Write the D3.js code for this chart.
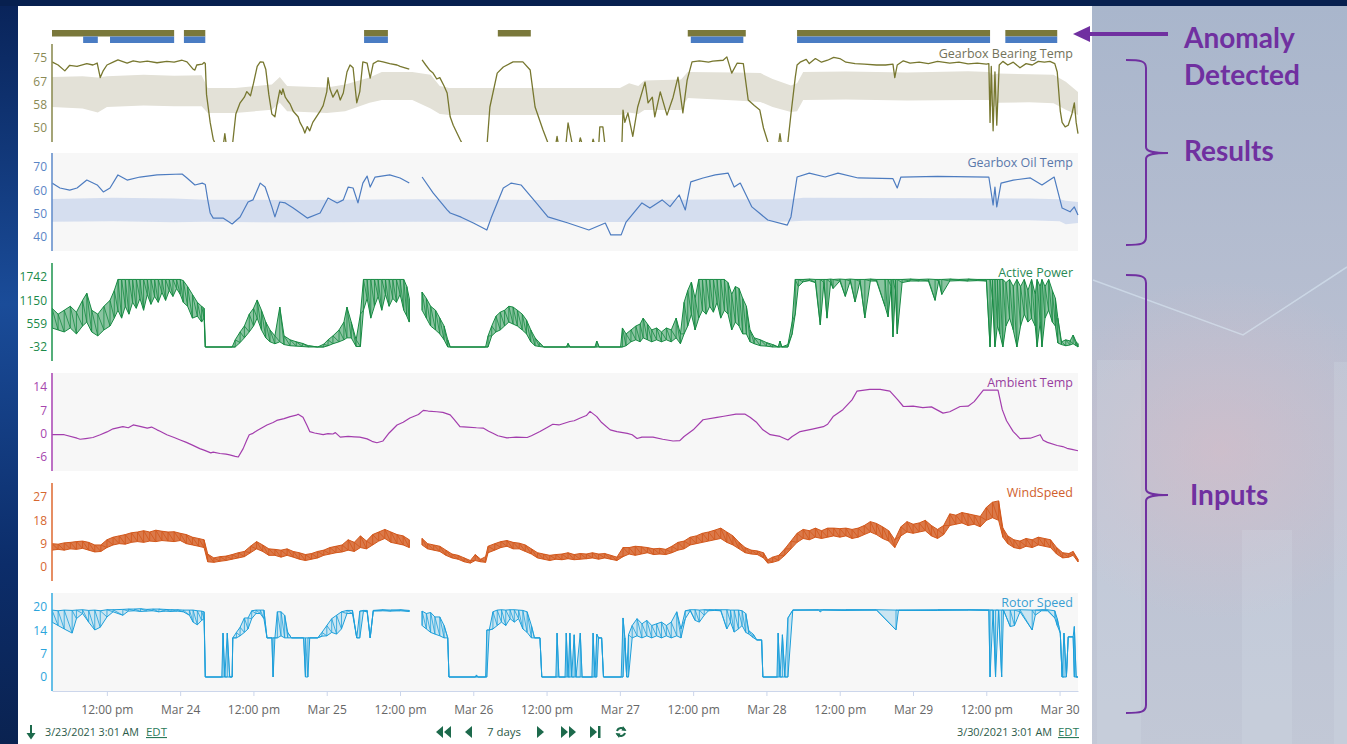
<!DOCTYPE html>
<html>
<head>
<meta charset="utf-8">
<script src="https://cdn.jsdelivr.net/npm/d3@7"></script>
<style>
  body { margin: 0; width: 1347px; height: 744px; overflow: hidden; background: #0b2a62; }
  svg { display: block; }
</style>
</head>
<body>
<script>
/*
DATA  (time = hours after 3/23/2021 3:01 AM)
*/
const startTime = Date.UTC(2021, 2, 23, 3, 1)
const endTime = Date.UTC(2021, 2, 30, 3, 1)

// anomaly flags, [from, to] in hours
const anomalyBearing = [[0, 20], [21.6, 25.1], [51.1, 55], [73, 78.4], [104.1, 113.6], [122, 153.6], [156.1, 164.6]]
const anomalyOil = [[5.1, 7.5], [9.5, 20], [21.6, 25.1], [51.1, 55], [104.6, 113.2], [122, 153.6], [156.1, 164.6]]

const bearingTicks = [50, 58.33, 66.67, 75]
const oilTicks = [40, 50, 60, 70]
const powerTicks = [-32, 559, 1150, 1742]
const ambientTicks = [-6.4, 0.3, 7, 13.7]
const windTicks = [0, 9, 18, 27]
const rotorTicks = [0, 6.8, 13.6, 20.4]

const bearingTemp = [[0,73.6],[1,72.5],[2.1,70.4],[2.9,72.4],[4.1,72],[5.7,73],[6.7,72.5],[7.4,73.2],[7.9,68],[8.4,70.5],[9,72.5],[10,73.5],[10.8,74.3],[12.3,73.2],[13.3,74],[14.4,73.5],[15.6,73.9],[17.2,73.3],[18.8,73.8],[20,73.5],[21.3,74.2],[22.1,73.6],[23.1,71],[23.4,70.7],[23.7,72.5],[24.6,72.8],[24.9,73.4],[25.1,73],[25.3,62],[25.9,52],[26.4,46],[27,43],[28,43],[28.3,48],[28.6,43],[29.5,43],[30.1,55],[30.8,59],[31.5,61],[31.9,63],[32.5,61.5],[33,66],[33.6,72],[34.1,73.6],[34.6,73.5],[35,71],[35.5,62],[36,55],[36.5,54],[36.8,58],[37.3,63.5],[37.6,62],[37.8,64],[38.2,61],[38.5,60],[39,58.5],[39.5,56],[40.3,54],[40.6,52],[41.1,50],[41.4,48.2],[41.8,50.5],[42.2,49],[42.7,52],[43.9,56],[44.4,58],[45,63],[45.2,68],[45.5,64],[46,61],[46.7,63.6],[47.2,60],[47.7,62.5],[48.3,70],[48.8,72.5],[49.3,71.5],[49.9,59],[50.4,63],[50.9,73.6],[51.6,73.2],[52.1,67.8],[52.6,73],[53.4,74],[54.2,73.6],[55.3,73],[56.5,72.5],[57,72],[57.8,71.5],[58.5,71],null,
  [60.6,74.3],[61.2,72.5],[61.9,70.5],[62.4,69.6],[63,67.5],[63.5,68],[64.2,65],[64.7,62.5],[65.2,54],[65.7,51],[66.8,46],[67.5,43],[71.2,43],[71.7,57.5],[72.9,69.6],[73.9,71.8],[75.5,73.6],[77.1,73.6],[78.3,70.7],[79.1,57.5],[80.4,49.3],[81.5,43],[82.4,43],[82.7,47],[83,43],[84.1,43],[84.5,51.8],[85.3,43],[86.2,43],[86.5,46.5],[87,43],[88.3,43],[88.6,46],[89,43],[89.5,43],[89.7,50.4],[90.2,50.4],[90.6,43],[93.3,43],[93.5,56.4],[93.8,52],[94.3,55.4],[95.1,47],[95.9,57.5],[97.1,66.4],[97.6,59],[98.3,61],[98.7,54],[99.6,62.9],[100.7,54.6],[101.7,61],[102.5,68.2],[103.3,55.4],[104,67.1],[104.8,73.6],[106,74],[107.5,73.5],[108.2,73.9],[109.9,74.2],[110.5,75.4],[111.3,69.6],[112.2,73.2],[113.2,73],[114,60],[115,58],[115.9,56.4],[116.5,50],[117.5,43],[118.9,43],[119.2,48],[119.5,43],[120.5,45],[121,55],[121.7,68],[122,72.5],[122.5,73.5],[123.5,74.5],[124,73],[125,74.8],[126,73.5],[127,74.2],[128,75.2],[129,74.8],[130,73.5],[131.5,73],[133,72.8],[135,72.5],[136.5,72.5],[137.7,72.8],[138,68],[138.4,72.5],[139.4,74],[140.5,73.2],[142,73.5],[143.5,73],[145,73.8],[147,73.2],[148.5,73.5],[150,72.9],[151.5,73.2],[153,72.8],[153.4,73],[153.6,52],[153.8,72],[154.1,49],[154.4,70],[154.7,51],[155.1,72.5],[155.7,73.8],[156.5,72.5],[157.4,73.5],[158.5,71.5],[159.5,73],[160.5,72.5],[161.5,73.8],[162.5,73.5],[163.4,73.8],[164.2,73],[164.6,70],[165.1,56],[165.4,52],[165.9,50.4],[166.4,51],[167,55],[167.4,59],[167.7,52],[168,48]]

// expected range [hour, low, high]
const bearingBand = [[0,57.5,68.2],[5,57,68.5],[7.5,55.5,68],[9,57.5,68.5],[15,58,69],[20,57.8,68.7],[24.5,57.8,68.8],[25.5,55.4,64.3],[30,55.4,64.3],[36,56.5,65.5],[37.3,59,68.2],[38.5,56,65],[45,55.4,64.5],[48,56,65.5],[52,59,68],[54,60,70],[59,60,70],[62,57,69],[63.5,55,65],[65,54.6,64.3],[80,54.6,64.3],[93,54.6,64.3],[94.5,55.5,66],[96,55,65],[97,56.4,67],[103,56.4,67.3],[104.1,60.7,70],[112,59.8,69.8],[116,59.3,69.6],[118,57.5,67.5],[121,55.7,65.2],[122,56,66],[123,60,70],[130,60.2,70.2],[140,59.8,69.8],[150,60,70.3],[153.4,60,70],[154,57,69],[155,59,69.5],[160,59.2,69.2],[164,58.8,69],[166,56.5,66.5],[168,54.6,62.9]]

const oilTemp = [[0,63.1],[1.3,61],[2.9,60.1],[4.1,61],[5.7,64.4],[7.4,62.3],[8.4,59.3],[9.5,61],[10.8,66.6],[12.3,64.4],[14.4,65.7],[17.2,66.6],[21.3,67],[22.1,65.3],[23.4,62.3],[24.6,63.1],[25.1,62.5],[25.5,56],[25.9,50.3],[26.4,48.1],[28,48.1],[29.5,45.6],[30.8,48.6],[32.1,55],[32.9,55.9],[34.1,63.1],[34.9,61.4],[36,52.9],[36.5,48.6],[37.3,55],[38.2,54.6],[39.5,52.4],[41.8,48.1],[43.9,50.3],[45.2,56.7],[46.7,54.6],[47.7,55.9],[48.5,61.4],[49.3,61],[50.1,54.6],[50.9,63.1],[51.6,66.1],[52.1,61.4],[52.9,65.7],[55.3,66.6],[57,65.3],[58.5,63.1],null,
  [60.6,65.7],[62.4,58.9],[64.7,51.6],[65.2,50.3],[67,48.5],[69,46],[70.5,44],[71.2,43],[71.9,48.1],[73.9,61],[75.2,63.1],[76.8,62.3],[79.3,54.6],[81.2,48.6],[84.5,46],[87.9,43],[90.6,46],[91.5,40.9],[93.2,40.9],[94,46.4],[96.6,54.6],[97.9,52.4],[99.9,55.9],[101.2,53],[102.7,58],[103.7,51.6],[104.6,63.6],[106.6,65.3],[108.6,66.6],[110.7,67.4],[111.7,61.4],[112.7,63.1],[114.6,52.9],[117.2,47.3],[120.4,45.1],[121,48.6],[122,65.7],[124,67.4],[126.6,65.7],[128.7,67.4],[132,65.3],[137.7,65],[138.4,61],[139,65.7],[145,66],[153.4,65.7],[154.1,53.7],[154.4,61.4],[154.7,52.9],[155.4,63.1],[157.4,64.4],[160.2,65.3],[162.1,62.3],[164.1,65.7],[165.4,52.4],[166.7,50.8],[167.4,52.9],[168,49.4]]

const oilBand = [[0,46.5,56.3],[10,46.8,56.8],[20,46.3,56.5],[25,46.5,56],[40,46.2,55.9],[60,46.5,56.2],[80,46.4,55.9],[100,46.4,56],[121,46.6,56.2],[123,47,56.8],[140,47.3,56.7],[160,47.2,56.5],[165,46.8,56.2],[166,45.5,55.5],[168,46,55]]

// noisy inputs: [hour, low, high]
const activePower = [[0,450,950],[1,400,800],[2,350,900],[3,450,1000],[4,300,850],[5,500,1150],[5.7,600,1330],[6.5,350,900],[7.5,250,800],[8.5,400,1000],[9.5,500,1150],[10.2,700,1400],[10.8,900,1680],[11.4,700,1680],[12,1000,1680],[12.6,800,1680],[13.2,1100,1680],[13.8,950,1680],[14.4,1200,1680],[15,900,1680],[15.6,1300,1680],[16.2,1050,1680],[16.8,1250,1680],[17.4,1100,1680],[18,1350,1680],[18.6,1150,1680],[19.2,1400,1680],[19.8,1250,1680],[20.4,1450,1680],[21,1300,1680],[21.5,1100,1650],[22.2,1000,1500],[23,700,1300],[23.8,750,1100],[24.5,600,1000],[24.9,700,950],[25.1,-32,-32],[29.5,-32,-32],[30,-32,150],[30.8,80,350],[31.5,200,500],[32.3,350,800],[33,500,950],[33.6,700,1160],[34.3,400,900],[35,200,600],[35.7,100,400],[36.5,50,250],[37.3,100,980],[38,30,250],[39,0,150],[40,-10,100],[41,-20,60],[42,-32,0],[43.5,-32,-32],[44.5,-32,40],[45.2,0,150],[46,50,250],[47,100,400],[47.8,150,600],[48.3,200,980],[49,200,600],[49.8,-20,150],[50.5,-20,800],[51,900,1680],[51.6,1200,1680],[52.2,700,1680],[52.8,1000,1680],[53.4,1250,1680],[54,900,1680],[54.6,1300,1680],[55.2,1000,1680],[55.8,1200,1680],[56.4,1100,1680],[57,1300,1680],[57.6,900,1680],[58.1,750,1500],[58.5,600,1200],null,
  [60.6,900,1360],[61.3,700,1200],[62,500,1000],[62.8,400,900],[63.5,300,700],[64.2,150,500],[64.8,-32,150],[65.2,-32,-32],[71,-32,-32],[71.4,-32,250],[72,250,500],[72.7,350,750],[73.4,400,850],[74.1,500,900],[74.8,600,1000],[75.5,550,980],[76.2,500,900],[77,400,800],[77.7,300,650],[78.4,100,400],[79.1,0,200],[79.8,-20,80],[80.5,-32,-32],[84.2,-32,-32],[84.5,-32,60],[84.8,-32,-32],[88.9,-32,-32],[89.2,-32,120],[89.6,-32,-32],[93.1,-32,-32],[93.4,-32,450],[94,0,300],[94.8,100,400],[95.6,150,500],[96.3,100,550],[96.8,200,700],[97.5,150,550],[98.2,100,400],[99,150,450],[99.8,100,350],[100.6,150,450],[101.4,100,400],[102.2,200,700],[102.9,50,300],[103.5,300,1100],[104.1,500,1400],[104.7,800,1615],[105.3,400,1200],[105.9,700,1680],[106.5,900,1680],[107.1,800,1680],[107.7,1000,1680],[108.3,850,1680],[108.9,1100,1680],[109.5,700,1680],[110.1,900,1680],[110.7,800,1600],[111.3,400,1300],[111.9,600,1500],[112.5,500,1450],[113.1,300,1200],[113.7,300,1000],[114.3,100,400],[115,50,200],[116,0,150],[117,-10,80],[118,-32,30],[118.9,-32,-32],[119.2,-32,120],[119.5,-32,-32],[120.5,-32,30],[121.2,300,601],[121.7,800,1680],[122.2,1500,1680],[123,1620,1680],[124,1650,1690],[125,1600,1680],[125.8,526,1680],[126.4,1600,1680],[126.9,700,1680],[127.5,1600,1690],[127.9,1450,1680],[129,1640,1690],[129.9,1250,1680],[130.7,1640,1690],[131.5,1108,1680],[132.3,1630,1680],[133.1,703,1680],[134,1640,1690],[135,1640,1680],[136.4,1000,1680],[136.9,730,1680],[137.4,1500,1680],[137.7,222,1680],[138.1,1400,1680],[138.4,300,1680],[139.2,1600,1680],[140.5,1640,1690],[142,1640,1680],[143.5,1640,1690],[144.6,1150,1680],[145.2,1640,1680],[145.7,1300,1680],[147,1640,1690],[148.5,1650,1680],[150,1640,1690],[151.5,1650,1680],[153,1640,1680],[153.6,-32,1680],[154,1200,1680],[154.4,-32,1680],[154.8,500,1680],[155.2,300,1680],[155.7,-32,1680],[156.2,500,1600],[156.8,700,1680],[157.4,400,1500],[158,-32,1680],[158.6,500,1500],[159.2,800,1680],[159.8,600,1400],[160.4,700,1680],[161,500,1300],[161.3,-32,1680],[161.8,600,1500],[162.1,-32,1680],[162.6,700,1500],[163.2,900,1680],[163.8,600,1400],[164.3,500,1200],[164.7,70,700],[165.3,30,100],[166,0,150],[166.7,20,120],[167.2,50,272],[167.7,0,100],[168,-32,50]]

const ambientTemp = [[0,0],[2,0],[4.1,-1],[4.6,-1.3],[5.5,-1.1],[6.7,-0.8],[7.9,0],[9,0.8],[10,1.7],[11.6,2.3],[12.5,2],[13.3,2.8],[14.4,2.4],[15.6,1.9],[16.3,2.2],[17.2,1.4],[17.7,1],[18.8,0],[20,-0.8],[21,-1.5],[22,-2.2],[23,-3],[24.2,-4],[25,-4.5],[26,-5.2],[26.4,-5],[27.5,-5.4],[28.5,-5.6],[29.1,-5.8],[30,-6.2],[30.5,-6.4],[31.3,-4],[31.9,-1.5],[32.3,0],[32.9,0.4],[33.6,1.2],[35.2,2.8],[36.2,3.5],[36.8,4.1],[38,4.6],[39,5.2],[40,5.6],[40.3,5.9],[41.1,5],[41.8,2.5],[42.2,0.9],[43,0.5],[44.4,0],[45.2,0.3],[46,0.2],[46.4,0.6],[47.2,-0.7],[48.5,-0.5],[49.5,-0.6],[50.4,-0.7],[51.6,-1.2],[52.4,-1.9],[53.2,-2.3],[54.2,-1.8],[55.2,0.5],[56.5,2.8],[57.5,3.6],[58.6,4.8],[60,5.8],[60.8,7],[61.6,6.8],[63,6.6],[64,6.4],[65.2,5.7],[65.8,4.5],[66.8,2.3],[68,2.2],[69.5,2],[70.6,1.9],[71.5,1],[72.2,0.4],[73,-0.3],[74.5,-0.9],[76,-0.7],[77.8,-0.8],[78.5,-0.3],[79.9,0.9],[81,2],[82,3],[83,2.8],[84.8,3.8],[85.5,4],[86.5,4.8],[87.5,5.5],[88.1,6.7],[89.2,5.2],[90,3.5],[91.4,1.4],[92.5,0.9],[94.2,0.4],[95,0],[95.8,-1.1],[96.6,-0.7],[98.4,-0.7],[100,-1.3],[101.7,-1.8],[102.8,-1.7],[103.5,-0.5],[105,1.4],[106.6,4.3],[108.9,5],[110,5.3],[112,5.9],[113.5,5.9],[114.3,5],[115.4,3.5],[116.4,1.4],[117.6,0],[119.2,-0.5],[120.5,-1.5],[121.2,-0.5],[122.5,0.9],[124.5,1.6],[126.3,2.3],[127,3],[127.9,5.2],[129.5,7.2],[131,10],[131.8,12.5],[133,12.8],[133.9,13],[135.6,13],[137.2,12.5],[138.5,10],[139.4,8.1],[141,8.2],[142.6,7.8],[144,8],[145.9,6.2],[147,6.6],[148.7,8.1],[150,8.2],[151,9.5],[152.5,12.8],[154.9,12.8],[155.6,7.2],[156.3,4],[157.4,0.9],[158.5,-1.1],[160.2,-1],[161.8,0],[162.3,-1.6],[163,-2.2],[164.6,-3.1],[165.5,-3.4],[166.2,-3.9],[167,-4.2],[168,-4.6]]

const windSpeed = [[0,6.5,9],[1,6.8,8.8],[2,6.5,9.3],[3,7,9.5],[4,6.8,9.8],[5,7.2,10],[6,6.5,9.5],[7,5.8,8.5],[8,6,8.5],[9,7.5,10.5],[10,8.5,11.5],[11,9,12],[12,8.8,12.5],[13,9.5,13.2],[14,9.8,13.5],[15,9.5,14],[16,10,13.5],[17,9.8,14.2],[18,10.2,13.8],[19,10,13.5],[20,9.8,13.6],[21,10.2,13],[22,9,12.5],[23,8.5,11.5],[24,8,11],[24.9,7.5,10.5],[25.5,2,5],[26.5,1.8,3.5],[27.5,2.2,4],[28.5,2.5,4.2],[29.5,3,4.8],[30.5,3.5,5.5],[31.5,4,6],[32.5,5.5,8],[33.5,7,9.8],[34.5,6,8.5],[35.5,4.5,7],[36.5,4.5,6.8],[37.5,3.8,6.5],[38.5,4.5,7],[39.5,3.8,6],[40.5,3,5.5],[41.5,2.5,4.8],[42.5,3,5.2],[43.5,3.5,6],[44.5,4.5,6.5],[45.5,5,7.5],[46.5,5.5,8],[47.5,5.8,8.5],[48.5,6.5,10.5],[49.5,6,9.5],[50.5,7.5,12],[51.5,7,10],[52.5,8.5,12.5],[53.5,10,13.5],[54.5,11,14.5],[55.5,9.5,13.5],[56.5,9,12.5],[57.5,8.5,12],[58.5,7.5,10.5],null,
  [60.6,8.5,11],[61.5,7,9],[62.5,6.5,8.5],[63.5,6,8],[64.5,4.5,6.5],[65.5,3.5,5],[66.5,3,4.5],[67.5,2,3.5],[68.5,1.5,2.5],[69.3,2.5,4.8],[70.2,2,3],[71,1.8,4],[71.4,5.5,8],[72.5,6.5,9],[73.5,7.5,9.8],[74.5,8,10.2],[75.5,7,9.5],[76.5,7,9.2],[77.5,6,8.5],[78.5,5,7],[79.5,3.5,5.5],[80.5,3,5],[81.5,2.5,4.5],[82.5,3,4.8],[83.5,2.8,5],[84.5,3.2,5.5],[85.5,2.8,4.8],[86.5,3,5.2],[87.5,3.2,5],[88.5,3.5,5.5],[89.5,3,5],[90.5,3.5,5.2],[91.5,3,4.5],[92.5,2.5,3.8],[93.5,4,7.5],[94.5,5,7.5],[95.5,4.5,8],[96.5,5,7.8],[97.5,5.5,7.5],[98.5,4.8,7],[99.5,5,7.2],[100.5,4.8,6.8],[101.5,5.5,8],[102.5,6.5,9.5],[103.5,7,10],[104.5,8.5,11.5],[105.5,9,12],[106.5,9.5,13],[107.5,10,13.5],[108.5,10.5,14.2],[109.5,11,15],[110.5,9.5,13.5],[111.5,8.5,12],[112.5,7,9.5],[113.5,5.5,7.5],[114.5,5,6.5],[115.5,4.8,6.2],[116.5,3.5,5.5],[117.2,1.5,2.8],[118,1.8,3.8],[119,2.5,4.5],[120,4.5,7],[121,7,10],[122,9.5,13],[123,11,14.5],[124,10.5,14],[125,11.5,15],[126,11,14],[127,11.5,15],[128,12,15],[129,11.5,14.8],[130,12,15],[131,11,14.5],[132,11.5,15],[133,12.5,16],[134,13.5,17.5],[135,12.5,16.8],[136,11,15.5],[137,10,14],[138,7.5,10.5],[139,12,15.5],[140,13.5,17.5],[141,13,16.5],[142,13.5,17],[143,14,18],[144,12,16],[145,11,14.5],[146,12.5,16],[147,16,20.5],[148,16.5,20],[149,17,21],[150,16,20.5],[151,16.5,20],[152,15.5,19.5],[153,18,23],[154,19,25],[155,18,25.5],[155.7,11.5,15],[156.5,9,12],[157.5,7.5,10.5],[158.5,7,10],[159.5,8,11],[160.5,7.5,10.5],[161.5,8.5,11.5],[162.5,8,11],[163.5,7.5,10.5],[164.5,5,7.5],[165.5,3.5,5.5],[166.5,3.8,5.2],[167.2,4.5,6],[168,2,3]]

const rotorSpeed = [[0,16,19.5],[1,15,19.3],[2,14,19.5],[3.3,12.8,19.4],[4,17,19.5],[5,18.5,19.6],[6,16,19.4],[7,13.7,19.5],[7.9,14.5,19.3],[9,17.5,19.6],[10,19,19.6],[11.6,18,19.7],[12.5,19.2,19.8],[13.5,19.3,19.8],[14.5,19.1,19.9],[15.5,19.2,19.7],[16.5,19.3,19.8],[17.5,19,19.8],[18.5,19.2,19.7],[19.5,19.1,19.6],[20.5,19.2,19.6],[21.5,19,19.5],[22.5,18,19.5],[23.1,16,19.5],[23.8,15.2,19.3],[24.5,16.5,19.2],[24.9,17,19],[25.1,0,0],[27.8,0,0],[28,0,12.8],[28.3,0,0],[28.7,0,12.8],[29.1,0,0],[29.5,0,0],[29.6,11.4,11.4],[30.2,11.4,13],[30.8,12,14.5],[31.5,13,17.2],[32.1,14,17.2],[32.7,17,19.3],[33.4,18.5,19.5],[34.1,18.5,19.5],[34.7,17,19.5],[35.2,11.4,11.4],[36,11.4,11.4],[36.2,0,11.4],[36.5,11.4,11.4],[36.9,11.4,19],[37.5,12,19],[38.1,11.4,18],[38.6,11.4,13],[39.2,11.4,11.4],[41.2,11.4,11.4],[41.5,0,11.4],[41.9,0,11.4],[42.2,11.4,11.4],[43.5,11.4,11.4],[44.2,11.9,13],[45,12,15],[45.8,13,17],[46.6,12.5,18],[47.4,14,19],[48.3,18.5,19.4],[49.2,18.5,19.4],[49.9,11.4,11.4],[50.4,11.4,19.2],[51,19.2,19.4],[51.6,19,19.4],[52.1,11.4,11.4],[52.6,19.2,19.4],[54,19.3,19.6],[55.5,19.2,19.5],[57,19.3,19.6],[58.5,19.1,19.4],null,
  [60.6,15,19.2],[61.3,14,18.5],[62,13,18.8],[62.7,12.5,17.5],[63.5,12,17.5],[64.2,11.4,15],[64.8,11.4,11.4],[65,0,0],[69.3,0,0],[69.5,0,0.6],[69.7,0,0],[71,0,0],[71.2,0,13.7],[71.6,13.7,13.7],[72.2,14,19],[72.9,15,19.5],[73.6,16,19.6],[74.3,15,19.5],[75,17,19.6],[75.7,16,19.6],[76.4,17,19.5],[77.1,14,19.4],[77.8,13,19],[78.5,11.4,15],[79,11.4,11.4],[79.9,11.4,11.4],[80.2,0,0],[82.5,0,0],[82.7,0,12.8],[83,0,0],[84,0,0],[84.2,0,12.8],[84.5,0,0],[84.8,0,12.8],[85.1,0,0],[85.5,0,12.3],[85.8,0,0],[86.5,0,12.8],[86.8,0,0],[88.4,0,0],[88.6,0,12.8],[88.9,0,0],[89.2,0,12.5],[89.5,11.4,11.4],[90,11.4,11.4],[90.3,0,0],[93.2,0,0],[93.5,0,17.2],[93.8,11.4,11.4],[94.1,0,0],[94.4,0,12.3],[95,11.4,15],[95.8,12,17],[96.6,11.4,15.5],[97.4,12,16.5],[98.2,11.4,15],[99,12,15.5],[99.8,11.4,16],[100.6,12,15],[101.4,11.4,16],[102.3,12,19],[103,11.4,14],[103.7,17,19.3],[104.5,19.3,19.6],[105.3,16.5,19.6],[106,16,19.5],[106.8,18,19.6],[107.5,19.3,19.6],[108.5,19.4,19.6],[109.5,19.3,19.6],[110.5,14,19.6],[111.1,16,19.5],[111.7,13.1,19.5],[112.4,14,19.5],[113,15,19.3],[113.6,13,18.5],[114.1,12.5,13.5],[114.8,11.5,12.5],[115.4,10.8,10.8],[116.2,10.8,10.8],[116.4,0,0],[118.7,0,0],[118.9,0,12.8],[119.2,0,0],[119.6,0,12.3],[120,0,0],[120.5,0,17.2],[121.3,19.5,19.5],[125.5,19.5,19.6],[125.8,19,19.6],[126.2,19.5,19.6],[130,19.4,19.6],[135,19.5,19.6],[138.2,13.7,19.5],[138.6,19.4,19.5],[145,19.4,19.6],[150,19.5,19.6],[153.4,19.4,19.6],[153.6,0,19.5],[154.1,19.5,19.5],[154.5,0,19.5],[155,19.5,19.5],[155.5,0,19.5],[155.8,19.5,19.5],[156.9,14.7,19.5],[157.6,15,19.5],[158.5,19,19.6],[160.5,13.7,19.5],[161,18,19.5],[162,19.3,19.6],[163,19.3,19.6],[164.2,17.2,19.3],[164.6,15,17],[165.1,12.8,12.8],[165.4,0,0],[165.7,0,12.8],[166.1,0,0],[166.4,11.7,11.7],[167.2,11.7,11.7],[167.4,0,14.7],[167.7,0,0],[168,0,0]]

/*
CANVAS
*/
const width = 1347
const height = 744
const plotLeft = 52
const plotRight = 1078
const panelHeight = 98

const svg = d3.select('body').append('svg')
  .attr('width', width)
  .attr('height', height)

const defs = svg.append('defs')

const leftGrad = defs.append('linearGradient').attr('id', 'leftGrad').attr('x1', 0).attr('x2', 0).attr('y1', 0).attr('y2', 1)
leftGrad.append('stop').attr('offset', '0%').attr('stop-color', '#09245a')
leftGrad.append('stop').attr('offset', '40%').attr('stop-color', '#1a4c99')
leftGrad.append('stop').attr('offset', '75%').attr('stop-color', '#0c2d6a')
leftGrad.append('stop').attr('offset', '100%').attr('stop-color', '#0a2250')

const rightGrad = defs.append('linearGradient').attr('id', 'rightGrad').attr('x1', 0).attr('x2', 0).attr('y1', 0).attr('y2', 1)
rightGrad.append('stop').attr('offset', '0%').attr('stop-color', '#a9b6cc')
rightGrad.append('stop').attr('offset', '45%').attr('stop-color', '#b8bfd1')
rightGrad.append('stop').attr('offset', '100%').attr('stop-color', '#c2c8d6')

const glow = defs.append('radialGradient').attr('id', 'glow')
glow.append('stop').attr('offset', '0%').attr('stop-color', '#dcbcc6').attr('stop-opacity', 0.55)
glow.append('stop').attr('offset', '100%').attr('stop-color', '#dcbcc6').attr('stop-opacity', 0)

// BACKGROUND
svg.append('rect').attr('width', width).attr('height', height).attr('fill', '#07204f')
svg.append('rect').attr('x', 0).attr('y', 6).attr('width', 18).attr('height', height).attr('fill', 'url(#leftGrad)')
svg.append('rect').attr('x', 1092).attr('y', 6).attr('width', 255).attr('height', height).attr('fill', 'url(#rightGrad)')
svg.append('ellipse').attr('cx', 1220).attr('cy', 450).attr('rx', 190).attr('ry', 170).attr('fill', 'url(#glow)')
const deco = svg.append('g').attr('fill', '#e4f1f8').attr('opacity', 0.14)
deco.append('rect').attr('x', 1097).attr('y', 360).attr('width', 44).attr('height', 384)
deco.append('rect').attr('x', 1242).attr('y', 530).attr('width', 50).attr('height', 214)
deco.append('rect').attr('x', 1334).attr('y', 362).attr('width', 13).attr('height', 382)
svg.append('path').attr('d', 'M1093,280 L1243,335 L1347,267').attr('fill', 'none').attr('stroke', '#dff0fa').attr('stroke-width', 1.5).attr('opacity', 0.5)

svg.append('rect').attr('x', 18).attr('y', 6).attr('width', 1074).attr('height', height - 6).attr('fill', '#ffffff')

/*
SCALES
*/
const toDate = h => new Date(startTime + h * 3600000)
const x = d3.scaleUtc()
  .domain([new Date(startTime), new Date(endTime)])
  .range([plotLeft, plotRight])

/*
PANELS
*/
function drawPanel(p) {
  const g = svg.append('g')
  const y = d3.scaleLinear()
    .domain([p.ticks[0], p.ticks[p.ticks.length - 1]])
    .range([p.top + 84, p.top + 14])

  if (p.shaded) {
    g.append('rect').attr('x', plotLeft).attr('y', p.top)
      .attr('width', plotRight - plotLeft).attr('height', panelHeight).attr('fill', '#f7f7f7')
  }

  defs.append('clipPath').attr('id', 'clip-' + p.id)
    .append('rect').attr('x', plotLeft).attr('y', p.top)
    .attr('width', plotRight - plotLeft + 1).attr('height', panelHeight)

  const plot = g.append('g').attr('clip-path', `url(#clip-${p.id})`)

  const area = d3.area()
    .defined(d => d !== null)
    .x(d => x(toDate(d[0])))
    .y0(d => y(d[1]))
    .y1(d => y(d[2]))

  const line = d3.line()
    .defined(d => d !== null)
    .x(d => x(toDate(d[0])))
    .y(d => y(d[1]))

  if (p.band) {
    plot.append('path').datum(p.band).attr('d', area).attr('fill', p.bandColor)
  }

  if (p.rows) {
    // noisy signal: min/max envelope, plus one stroke per sample
    plot.append('path')
      .datum(p.rows)
      .attr('d', area)
      .attr('fill', p.color)
      .attr('fill-opacity', p.fillOpacity)
      .attr('stroke', p.color)
      .attr('stroke-width', 1)
      .attr('stroke-linejoin', 'round')
    const strokes = p.rows.flatMap(r => r === null ? [null] : [[r[0], r[1]], [r[0], r[2]]])
    plot.append('path')
      .datum(strokes)
      .attr('d', line)
      .attr('fill', 'none')
      .attr('stroke', p.color)
      .attr('stroke-width', 0.8)
  } else {
    plot.append('path')
      .datum(p.points)
      .attr('d', line)
      .attr('fill', 'none')
      .attr('stroke', p.color)
      .attr('stroke-width', p.lineWidth || 1.2)
      .attr('stroke-linejoin', 'round')
  }

  g.append('line')
    .attr('x1', plotLeft).attr('x2', plotLeft)
    .attr('y1', p.top).attr('y2', p.top + panelHeight)
    .attr('stroke', p.axisColor).attr('stroke-width', 1.6)

  const yAxis = d3.axisLeft(y)
    .tickValues(p.ticks)
    .tickSize(0)
    .tickPadding(5)
    .tickFormat(d => Math.round(d))
  const ag = g.append('g')
    .attr('transform', `translate(${plotLeft},0)`)
    .call(yAxis)
    .attr('font-family', '"Open Sans", sans-serif')
    .attr('font-size', 12)
  ag.select('.domain').remove()
  ag.selectAll('text').attr('fill', p.labelColor)

  g.append('text')
    .attr('x', 1073).attr('y', p.top + 14)
    .attr('text-anchor', 'end')
    .attr('font-family', '"Open Sans", sans-serif')
    .attr('font-size', 12.5)
    .attr('fill', p.titleColor)
    .text(p.title)
}

drawPanel({ id: 'bearing', title: 'Gearbox Bearing Temp', top: 44, ticks: bearingTicks, points: bearingTemp,
  band: bearingBand, bandColor: '#e3e1d7', color: '#77772f', axisColor: '#8e8e55', labelColor: '#8a8a55', titleColor: '#72725a', lineWidth: 1.3 })
drawPanel({ id: 'oil', title: 'Gearbox Oil Temp', top: 153, ticks: oilTicks, points: oilTemp, shaded: true,
  band: oilBand, bandColor: '#d5deef', color: '#4d7cc0', axisColor: '#6690cc', labelColor: '#5a85c6', titleColor: '#5a78aa' })
drawPanel({ id: 'power', title: 'Active Power', top: 263, ticks: powerTicks, rows: activePower, fillOpacity: 0.5,
  color: '#178a43', axisColor: '#2a9a58', labelColor: '#1c8a4a', titleColor: '#2a8a55' })
drawPanel({ id: 'ambient', title: 'Ambient Temp', top: 373, ticks: ambientTicks, points: ambientTemp, shaded: true,
  color: '#a33dad', axisColor: '#ad4db6', labelColor: '#a646ae', titleColor: '#983e9f' })
drawPanel({ id: 'wind', title: 'WindSpeed', top: 483, ticks: windTicks, rows: windSpeed, fillOpacity: 0.8,
  color: '#d2571b', axisColor: '#e0713c', labelColor: '#d66730', titleColor: '#d0602c' })
drawPanel({ id: 'rotor', title: 'Rotor Speed', top: 593, ticks: rotorTicks, rows: rotorSpeed, shaded: true, fillOpacity: 0.2,
  color: '#1d9fda', axisColor: '#3fb0e2', labelColor: '#2ba5dc', titleColor: '#3a9fd2' })

/*
ANOMALY BARS
*/
svg.append('g').selectAll('rect')
  .data(anomalyBearing)
  .enter()
  .append('rect')
  .attr('x', d => x(toDate(d[0])))
  .attr('width', d => x(toDate(d[1])) - x(toDate(d[0])))
  .attr('y', 30).attr('height', 6.5)
  .attr('fill', '#7a783b')

svg.append('g').selectAll('rect')
  .data(anomalyOil)
  .enter()
  .append('rect')
  .attr('x', d => x(toDate(d[0])))
  .attr('width', d => x(toDate(d[1])) - x(toDate(d[0])))
  .attr('y', 36.5).attr('height', 6.5)
  .attr('fill', '#4a7cc3')

/*
TIME AXIS
*/
const xAxis = d3.axisBottom(x)
  .ticks(d3.utcHour.every(12))
  .tickSize(5)
  .tickSizeOuter(0)
  .tickPadding(9)
  .tickFormat(d => d.getUTCHours() === 0 ? d3.utcFormat('%b %-d')(d) : '12:00 pm')

const xg = svg.append('g')
  .attr('transform', `translate(0,${593 + panelHeight})`)
  .call(xAxis)
  .attr('font-family', '"Open Sans", sans-serif')
  .attr('font-size', 12)
xg.select('.domain').attr('stroke', '#ccd6eb')
xg.selectAll('.tick line').attr('stroke', '#ccd6eb')
xg.selectAll('text').attr('fill', '#666666')

/*
FOOTER
*/
const footGreen = '#1d6a4c'
const foot = svg.append('g').attr('font-family', '"Open Sans", sans-serif').attr('font-size', 11)

foot.append('path').attr('d', 'M31,725 L31,737').attr('stroke', footGreen).attr('stroke-width', 2)
foot.append('path').attr('d', 'M26.5,733 L31,739.5 L35.5,733 Z').attr('fill', footGreen)
foot.append('text').attr('x', 45).attr('y', 736).attr('fill', '#2b5a48')
  .attr('textLength', 94).attr('lengthAdjust', 'spacingAndGlyphs').text('3/23/2021 3:01 AM')
foot.append('text').attr('x', 146).attr('y', 736).attr('fill', '#2a7a5a').attr('text-decoration', 'underline')
  .attr('textLength', 21).attr('lengthAdjust', 'spacingAndGlyphs').text('EDT')

foot.append('text').attr('x', 957).attr('y', 736).attr('fill', '#2b5a48')
  .attr('textLength', 95).attr('lengthAdjust', 'spacingAndGlyphs').text('3/30/2021 3:01 AM')
foot.append('text').attr('x', 1058).attr('y', 736).attr('fill', '#2a7a5a').attr('text-decoration', 'underline')
  .attr('textLength', 21).attr('lengthAdjust', 'spacingAndGlyphs').text('EDT')

const nav = foot.append('g').attr('fill', footGreen)
nav.append('path').attr('d', 'M443,726 L436,732 L443,738 Z M451,726 L444,732 L451,738 Z')
nav.append('path').attr('d', 'M472,726 L465,732 L472,738 Z')
nav.append('text').attr('x', 487).attr('y', 736).attr('fill', '#2b5a48')
  .attr('textLength', 34).attr('lengthAdjust', 'spacingAndGlyphs').text('7 days')
nav.append('path').attr('d', 'M537,726 L544,732 L537,738 Z')
nav.append('path').attr('d', 'M561,726 L568,732 L561,738 Z M569,726 L576,732 L569,738 Z')
nav.append('path').attr('d', 'M590,726 L597,732 L590,738 Z')
nav.append('rect').attr('x', 598).attr('y', 726).attr('width', 2.5).attr('height', 12)
nav.append('path').attr('d', 'M625,730 A4.5,4.5 0 0 0 617,731 M617,734 A4.5,4.5 0 0 0 625,733')
  .attr('fill', 'none').attr('stroke', footGreen).attr('stroke-width', 2)
nav.append('path').attr('d', 'M623,726 L626.5,731 L621.5,730.5 Z M619,738 L615.5,733 L620.5,733.5 Z')

/*
ANNOTATIONS
*/
const purple = '#7030a0'
const notes = svg.append('g')

notes.append('line').attr('x1', 1168).attr('x2', 1086).attr('y1', 34).attr('y2', 34)
  .attr('stroke', purple).attr('stroke-width', 4)
notes.append('path').attr('d', 'M1073,34 L1090,26 L1090,42 Z').attr('fill', purple)

function brace(top, mid, bottom) {
  return `M1126,${top} C1141,${top} 1146,${top + 1} 1146,${top + 8} L1146,${mid - 6} C1146,${mid - 2} 1151,${mid} 1168,${mid} ` +
    `M1168,${mid} C1151,${mid} 1146,${mid + 2} 1146,${mid + 6} L1146,${bottom - 8} C1146,${bottom - 1} 1141,${bottom} 1126,${bottom}`
}
notes.append('path').attr('d', brace(60, 153, 245)).attr('fill', 'none').attr('stroke', purple).attr('stroke-width', 2)
notes.append('path').attr('d', brace(275, 495, 713)).attr('fill', 'none').attr('stroke', purple).attr('stroke-width', 2)

const noteText = notes.append('g')
  .attr('font-family', 'Lato, "Open Sans", sans-serif')
  .attr('font-weight', 'bold')
  .attr('font-size', 28)
  .attr('fill', purple)
noteText.append('text').attr('x', 1184).attr('y', 48).text('Anomaly')
noteText.append('text').attr('x', 1184).attr('y', 85).text('Detected')
noteText.append('text').attr('x', 1184).attr('y', 161).text('Results')
noteText.append('text').attr('x', 1190).attr('y', 505).text('Inputs')
</script>
</body>
</html>
